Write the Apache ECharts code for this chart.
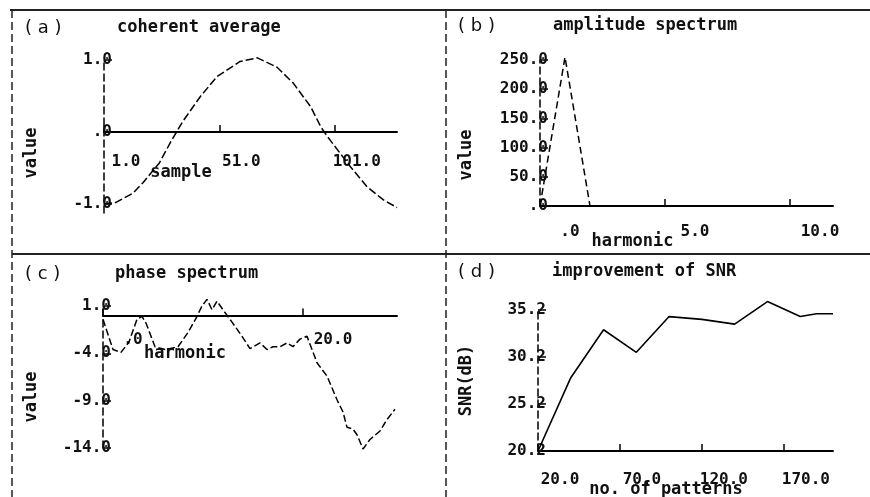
<!DOCTYPE html>
<html>
<head>
<meta charset="utf-8">
<script src="https://cdn.jsdelivr.net/npm/echarts@6/dist/echarts.min.js"></script>
<style>html,body{margin:0;padding:0;background:#fff}#c{width:870px;height:497px}</style>
</head>
<body>
<div id="c"></div>
<script>
// (a) coherent average
const aSample = [1, 6, 13.6, 18, 25, 29.7, 35, 42.7, 50, 60, 67.5, 76, 83, 90.6, 95, 98, 108, 115, 122, 128];
const aValue  = [-1.0, -0.98, -0.85, -0.7, -0.43, -0.15, 0.14, 0.49, 0.77, 0.98, 1.03, 0.9, 0.68, 0.35, 0.07, -0.07, -0.49, -0.76, -0.94, -1.05];
const aXTicks = [1, 51, 101];
const aYTicks = [-1, 0, 1];

// (b) amplitude spectrum
const bHarmonic = [0, 1, 2, 3, 4, 5, 6, 7, 8, 9, 10, 11];
const bAmp      = [0, 255, 0, 0, 0, 0, 0, 0, 0, 0, 0, 0];
const bXTicks = [0, 5, 10];
const bYTicks = [0, 50, 100, 150, 200, 250];

// (c) phase spectrum
const cHarmonic = [0, 1, 1.8, 2.6, 3.4, 3.9, 4.3, 5.2, 6.2, 7.5, 8.5, 9.3, 9.9, 10.4, 10.9, 11.4, 12, 12.9, 13.9, 14.7, 15.7, 16.4, 17, 17.7, 18.4, 19, 19.7, 20.4, 21.4, 22.4, 23.4, 24, 24.4, 25, 25.4, 26, 26.7, 27.7, 28.4, 29.2];
const cPhase    = [-0.4, -3.6, -3.9, -2.8, -0.4, -0.1, -0.8, -3.3, -3.6, -3.3, -1.8, -0.3, 1.0, 1.7, 0.6, 1.5, 0.6, -0.7, -2.2, -3.5, -2.9, -3.6, -3.3, -3.3, -2.9, -3.3, -2.5, -2.2, -5.0, -6.4, -8.9, -10.2, -11.8, -12.0, -12.6, -14.1, -13.1, -12.2, -11.0, -9.9];
const cXTicks = [0, 20];
const cYTicks = [1, -4, -9, -14];

// (d) improvement of SNR
const dPatterns = [20, 40, 60, 80, 100, 120, 140, 160, 180, 190, 200];
const dSNR      = [20.2, 28.0, 33.1, 30.7, 34.5, 34.2, 33.7, 36.1, 34.5, 34.8, 34.8];
const dXTicks = [20, 70, 120, 170];
const dYTicks = [20.2, 25.2, 30.2, 35.2];

const MONO = 'DejaVu Sans Mono';
const fmt = v => (v === 0 ? '.0' : Number(v).toFixed(1));
const pairs = (xs, ys) => xs.map((x, i) => [x, ys[i]]);

function xAxisCfg(idx, min, max, ticks, name, margin, labelShift, nameGap, namePadR, offset) {
  return {
    type: 'value', gridIndex: idx, min: min, max: max, position: 'bottom', offset: offset,
    name: name, nameLocation: 'middle', nameGap: nameGap, nameMoveOverlap: false,
    nameTextStyle: { fontFamily: MONO, fontSize: 17, fontWeight: 'bold', color: '#111', padding: [0, namePadR, 0, 0] },
    axisLine: { show: true, onZero: false, lineStyle: { color: '#000', width: 2 } },
    axisTick: { show: true, inside: true, length: 7, customValues: ticks, lineStyle: { color: '#000', width: 1.5 } },
    axisLabel: { customValues: ticks, formatter: fmt, margin: margin, padding: [0, 0, 0, labelShift * 2],
      fontFamily: MONO, fontSize: 16, fontWeight: 'bold', color: '#111' },
    splitLine: { show: false }
  };
}
function yAxisCfg(idx, min, max, ticks, name, nameGap, namePadR) {
  return {
    type: 'value', gridIndex: idx, min: min, max: max,
    name: name, nameLocation: 'middle', nameGap: nameGap, nameMoveOverlap: false,
    nameTextStyle: { fontFamily: MONO, fontSize: 17, fontWeight: 'bold', color: '#111', padding: [0, namePadR, 0, 0] },
    axisLine: { show: true, onZero: false, lineStyle: { color: '#000', width: 1.5, type: [7, 4] } },
    axisTick: { show: true, inside: true, length: 8, customValues: ticks, lineStyle: { color: '#000', width: 1.5 } },
    axisLabel: { customValues: ticks, formatter: fmt, margin: -8,
      fontFamily: MONO, fontSize: 16, fontWeight: 'bold', color: '#111' },
    splitLine: { show: false }
  };
}
function lineSeries(idx, data, dash, width) {
  return {
    type: 'line', xAxisIndex: idx, yAxisIndex: idx, data: data,
    showSymbol: false, clip: false, silent: true,
    lineStyle: { color: '#000', width: width, type: dash }
  };
}
function txt(x, y, s, font, size, weight) {
  return { type: 'text', left: x, top: y - size / 2 - 1, silent: true,
    style: { text: s, fill: '#111', font: (weight || 'bold') + ' ' + size + 'px "' + font + '"' } };
}
function seg(x1, y1, x2, y2, w, dash) {
  return { type: 'line', silent: true, shape: { x1: x1, y1: y1, x2: x2, y2: y2 },
    style: { stroke: '#222', lineWidth: w, lineDash: dash || null } };
}

const chart = echarts.init(document.getElementById('c'), null, { renderer: 'canvas' });
chart.setOption({
  animation: false,
  backgroundColor: '#fff',
  grid: [
    { left: 104, top: 60, width: 293, height: 153, outerBoundsMode: 'none' },
    { left: 540, top: 60, width: 293, height: 146, outerBoundsMode: 'none' },
    { left: 103, top: 306, width: 294, height: 142, outerBoundsMode: 'none' },
    { left: 538, top: 310, width: 295, height: 141, outerBoundsMode: 'none' }
  ],
  xAxis: [
    xAxisCfg(0, 1, 128, aXTicks, 'sample', 22, 22, 32, 139, -81),
    xAxisCfg(1, 0, 11.72, bXTicks, 'harmonic', 18, 30, 27, 108, 0),
    xAxisCfg(2, 0, 29.4, cXTicks, 'harmonic', 16, 30, 30, 130, -132.5),
    xAxisCfg(3, 20, 200, dXTicks, 'no. of patterns', 21, 22, 30, 39, 0)
  ],
  yAxis: [
    yAxisCfg(0, -1.125, 1, aYTicks, 'value', 64, 33),
    yAxisCfg(1, 0, 250, bYTicks, 'value', 65, 44),
    yAxisCfg(2, -14, 1, cYTicks, 'value', 63, 40),
    yAxisCfg(3, 20.2, 35.2, dYTicks, 'SNR(dB)', 63, 0)
  ],
  series: [
    lineSeries(0, pairs(aSample, aValue), [8, 3], 1.5),
    lineSeries(1, pairs(bHarmonic, bAmp), [7, 4], 1.5),
    lineSeries(2, pairs(cHarmonic, cPhase), [7, 3], 1.5),
    lineSeries(3, pairs(dPatterns, dSNR), 'solid', 1.6)
  ],
  graphic: [
    seg(10, 10, 870, 10, 2),
    seg(12, 10, 12, 497, 1.5, [8, 4]),
    seg(446, 10, 446, 497, 1.5, [8, 4]),
    seg(12, 254, 870, 254, 2),
    txt(25, 29, '( a )', 'DejaVu Sans', 18, 'normal'),
    txt(117, 29, 'coherent average', MONO, 17),
    txt(458, 27, '( b )', 'DejaVu Sans', 18, 'normal'),
    txt(553, 27, 'amplitude spectrum', MONO, 17),
    txt(25, 275, '( c )', 'DejaVu Sans', 18, 'normal'),
    txt(115, 275, 'phase spectrum', MONO, 17),
    txt(458, 273, '( d )', 'DejaVu Sans', 18, 'normal'),
    txt(552, 273, 'improvement of SNR', MONO, 17)
  ]
});
</script>
</body>
</html>
